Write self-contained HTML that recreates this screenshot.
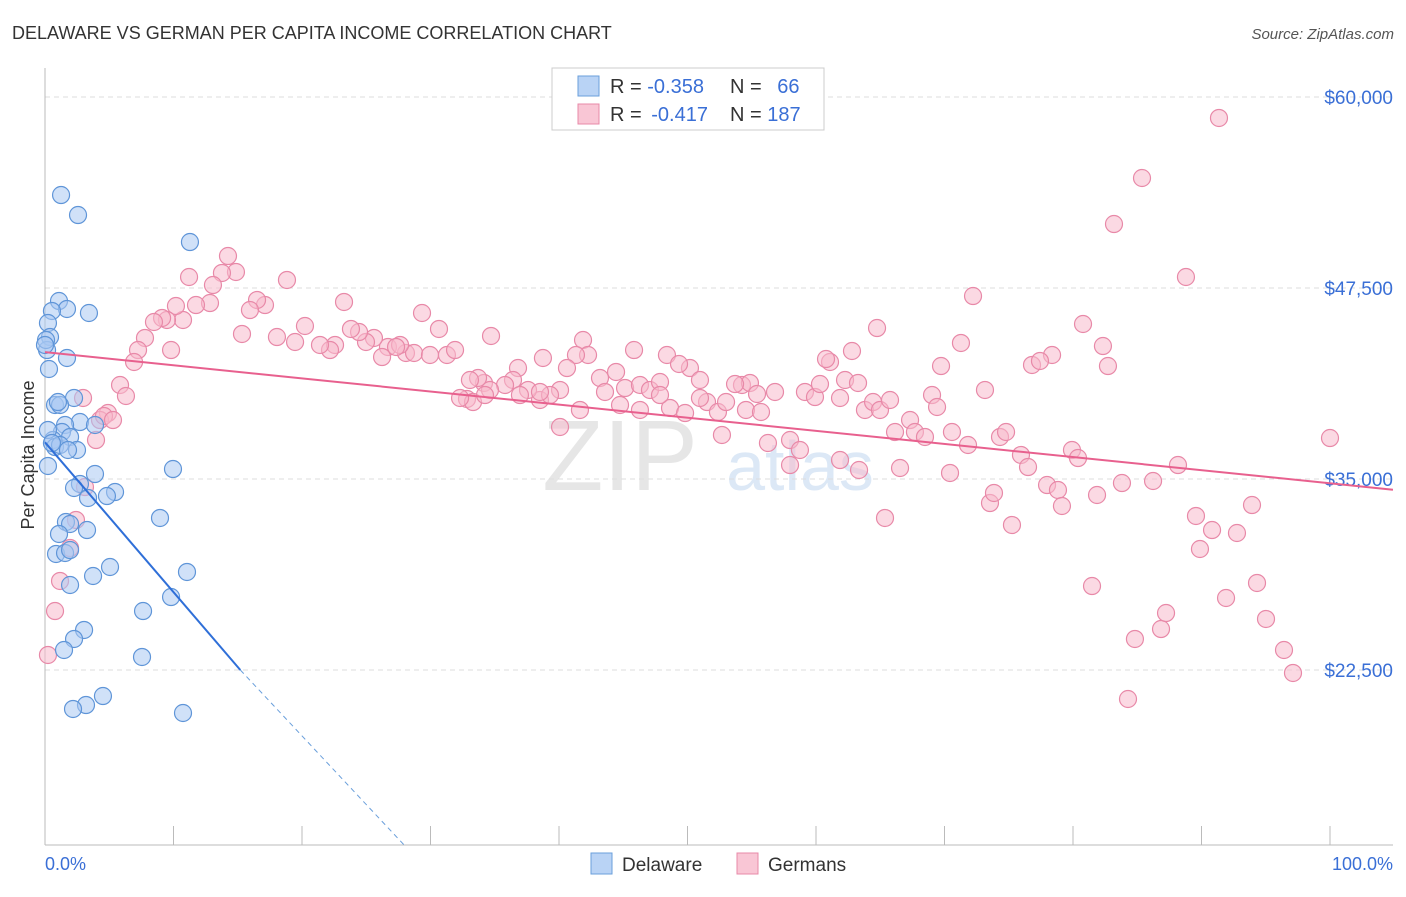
<!DOCTYPE html>
<html><head><meta charset="utf-8"><style>
body{margin:0;background:#fff;font-family:"Liberation Sans",sans-serif;}
svg text{font-family:"Liberation Sans",sans-serif;}
</style></head><body>
<svg id="chart" width="1406" height="892" xmlns="http://www.w3.org/2000/svg">
<text x="12" y="39" font-size="18" fill="#333">DELAWARE VS GERMAN PER CAPITA INCOME CORRELATION CHART</text>
<text x="1394" y="39" font-size="15" fill="#555" font-style="italic" text-anchor="end">Source: ZipAtlas.com</text>
<text x="620" y="490" font-size="100" fill="#e6e6e6" font-family="Liberation Serif" text-anchor="middle">ZIP</text>
<text x="800" y="490" font-size="70" fill="#dce8f6" text-anchor="middle">atlas</text>
<g id="grid"></g><g id="axes"></g><g id="pts"></g><g id="lines"></g>
<text x="34" y="455" font-size="18" fill="#333" transform="rotate(-90 34 455)" text-anchor="middle">Per Capita Income</text>
<text x="45" y="870" font-size="18" fill="#3a6fd6">0.0%</text>
<text x="1393" y="870" font-size="18" fill="#3a6fd6" text-anchor="end">100.0%</text>
<g>
<rect x="552" y="68" width="272" height="62" fill="#fff" stroke="#ccc"/>
<rect x="578" y="76" width="21" height="20" fill="#b9d3f5" stroke="#6a9fdb"/>
<rect x="578" y="104" width="21" height="20" fill="#f9c6d5" stroke="#e889a8"/>
<text x="610" y="93" font-size="20" fill="#333">R = <tspan fill="#3a6fd6">-0.358</tspan></text>
<text x="730" y="93" font-size="20" fill="#333">N = <tspan fill="#3a6fd6" dx="10">66</tspan></text>
<text x="610" y="121" font-size="20" fill="#333">R = <tspan fill="#3a6fd6" dx="4">-0.417</tspan></text>
<text x="730" y="121" font-size="20" fill="#333">N = <tspan fill="#3a6fd6">187</tspan></text>
</g>
<g>
<rect x="591" y="853" width="21" height="21" fill="#b9d3f5" stroke="#6a9fdb"/>
<text x="622" y="871" font-size="19" fill="#333">Delaware</text>
<rect x="737" y="853" width="21" height="21" fill="#f9c6d5" stroke="#e889a8"/>
<text x="768" y="871" font-size="19" fill="#333">Germans</text>
</g>
</svg>
<script>
const yTicks=[60000,47500,35000,22500];
const yTickLabels=["$60,000","$47,500","$35,000","$22,500"];
const xTicks=[0,10,20,30,40,50,60,70,80,90,100];
const blueTrend=[[0,37400],[15.2,22500],[28,11000]];
const pinkTrend=[[0,43300],[104.9,34300]];
const bluePx=[[61,195],[78,215],[190,242],[59,301],[67,309],[52,311],[89,313],[48,323],[50,337],[47,350],[67,358],[49,369],[74,398],[55,405],[60,405],[80,422],[65,425],[95,425],[62,432],[53,440],[70,437],[55,447],[60,445],[77,450],[68,450],[48,466],[95,474],[173,469],[80,484],[74,488],[115,492],[107,496],[88,498],[160,518],[66,522],[70,524],[87,530],[59,534],[56,554],[65,553],[70,550],[110,567],[187,572],[93,576],[70,585],[143,611],[171,597],[84,630],[74,639],[64,650],[142,657],[103,696],[86,705],[73,709],[183,713],[48,430],[52,443],[46,340],[45,345],[58,402]];
const pinkPx=[[1219,118],[1142,178],[1114,224],[1186,277],[973,296],[1083,324],[1103,346],[1108,366],[1052,355],[1032,365],[1040,361],[961,343],[941,366],[877,328],[852,351],[830,362],[826,359],[775,392],[742,385],[750,383],[735,384],[757,394],[707,402],[690,368],[667,355],[679,364],[634,350],[583,340],[588,355],[576,355],[543,358],[518,368],[491,336],[513,380],[484,383],[467,399],[473,402],[447,355],[439,329],[422,313],[406,353],[414,353],[388,347],[382,357],[374,338],[366,342],[359,332],[351,329],[344,302],[335,345],[330,350],[320,345],[305,326],[295,342],[287,280],[277,337],[265,305],[257,300],[250,310],[242,334],[236,272],[228,256],[222,273],[213,285],[210,303],[196,305],[189,277],[183,320],[176,306],[167,320],[162,318],[154,322],[145,338],[138,350],[134,362],[120,385],[126,396],[108,413],[100,420],[96,440],[83,398],[104,416],[113,420],[60,581],[70,548],[76,520],[55,611],[48,655],[85,487],[171,350],[560,427],[600,378],[616,372],[625,388],[640,385],[650,390],[660,382],[670,408],[685,413],[700,398],[718,412],[722,435],[726,402],[746,410],[761,412],[768,443],[790,440],[805,392],[815,397],[820,384],[840,398],[845,380],[858,383],[865,410],[873,402],[880,410],[890,400],[895,432],[910,420],[915,432],[925,437],[932,395],[937,407],[952,432],[968,445],[985,390],[1000,437],[1006,432],[1021,455],[1028,467],[1047,485],[1058,490],[1062,506],[1072,450],[1078,458],[1097,495],[1122,483],[1153,481],[1178,465],[1196,516],[1212,530],[1237,533],[1252,505],[1200,549],[1226,598],[1257,583],[1266,619],[1284,650],[1293,673],[1330,438],[1092,586],[1135,639],[1161,629],[1166,613],[1128,699],[885,518],[859,470],[840,460],[800,450],[790,465],[990,503],[994,493],[1012,525],[950,473],[900,468],[560,390],[540,400],[528,390],[505,385],[490,390],[478,378],[460,398],[455,350],[430,355],[400,345],[396,347],[520,395],[550,395],[567,368],[605,392],[580,410],[620,405],[640,410],[660,395],[700,380],[540,392],[485,395],[470,380]];
const toData=p=>[+((p[0]-45)/12.85).toFixed(2),Math.round(60000-(p[1]-97)*12500/191)];
const blueData=bluePx.map(toData);
const pinkData=pinkPx.map(toData);

const X=v=>45+v*12.85;
const Y=v=>97+(60000-v)*191/12500;
const NS="http://www.w3.org/2000/svg";
function mk(tag,attrs,parent){const e=document.createElementNS(NS,tag);for(const k in attrs)e.setAttribute(k,attrs[k]);parent.appendChild(e);return e;}
const grid=document.getElementById('grid'),axes=document.getElementById('axes'),pts=document.getElementById('pts'),lines=document.getElementById('lines');
yTicks.forEach((t,i)=>{
 const l=mk('line',{x1:45,x2:1393,y1:Y(t),y2:Y(t),stroke:'#ddd','stroke-dasharray':'5,4'},grid);
 
 
 const tx=mk('text',{x:1393,y:Y(t)+7,'font-size':19,fill:'#3a6fd6','text-anchor':'end'},axes);
 tx.textContent=yTickLabels[i];
 
 
});
const ya=mk('line',{x1:45,x2:45,y1:68,y2:845,stroke:'#bbb'},axes);


const xa=mk('line',{x1:45,x2:1393,y1:845,y2:845,stroke:'#bbb'},axes);


xTicks.forEach(t=>{
 const l=mk('line',{x1:X(t),x2:X(t),y1:826,y2:845,stroke:'#bbb'},axes);
 
 
});
function dots(data,fill,stroke,name){data.forEach(d=>{
 const c=mk('circle',{cx:X(d[0]),cy:Y(d[1]),r:8.5,fill:fill,'fill-opacity':0.55,stroke:stroke,'stroke-width':1.2},pts);
 
 
});}
dots(pinkData,'#f7b9cc','#e889a8','germans-point');
dots(blueData,'#a9c9f2','#5f95d8','delaware-point');
const b1=mk('line',{x1:X(blueTrend[0][0]),y1:Y(blueTrend[0][1]),x2:X(blueTrend[1][0]),y2:Y(blueTrend[1][1]),stroke:'#2f6fd8','stroke-width':2},lines);


const b2=mk('line',{x1:X(blueTrend[1][0]),y1:Y(blueTrend[1][1]),x2:X(blueTrend[2][0]),y2:Y(blueTrend[2][1]),stroke:'#6a9fdb','stroke-width':1,'stroke-dasharray':'5,4'},lines);


const p1=mk('line',{x1:X(pinkTrend[0][0]),y1:Y(pinkTrend[0][1]),x2:X(pinkTrend[1][0]),y2:Y(pinkTrend[1][1]),stroke:'#e8608e','stroke-width':2},lines);


</script>
</body></html>
